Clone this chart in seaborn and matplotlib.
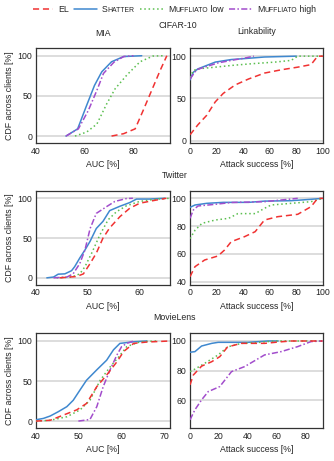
import numpy as np
import pandas as pd
import matplotlib
matplotlib.use("Agg")
import matplotlib.pyplot as plt
from matplotlib.lines import Line2D
import seaborn as sns

sns.set_style("white")
plt.rcParams['font.family'] = ['Liberation Sans', 'DejaVu Sans']
FS = 6.3

# ---------------- data ----------------
methods = ["EL", "SHATTER", "MUFFLIATO low", "MUFFLIATO high"]
colors = {"EL": "#f03232", "SHATTER": "#3f88cf", "MUFFLIATO low": "#5cbf50", "MUFFLIATO high": "#a24dcc"}
styles = {"EL": (0, (4, 2.5)), "SHATTER": "-", "MUFFLIATO low": (0, (1, 1.8)), "MUFFLIATO high": (0, (4, 1.5, 1, 1.5))}
# legend label pieces: (text, small caps?)
legend_parts = {
    "EL": [("EL", False)],
    "SHATTER": [("S", False), ("HATTER", True)],
    "MUFFLIATO low": [("M", False), ("UFFLIATO", True), (" low", False)],
    "MUFFLIATO high": [("M", False), ("UFFLIATO", True), (" high", False)],
}

# CIFAR-10 MIA (AUC %, CDF %)
cifar_mia_el_x = [71, 76, 80.7, 84, 87.5, 91, 93.7]
cifar_mia_el_y = [0, 3, 9, 32, 57, 82, 100]
cifar_mia_sh_x = [52.3, 57.1, 60.5, 64, 67, 71, 76, 83.4]
cifar_mia_sh_y = [0, 9, 36, 63, 80, 92.5, 99, 100]
cifar_mia_ml_x = [56, 60.8, 65, 69, 72.5, 77.3, 82.7, 88, 92.3]
cifar_mia_ml_y = [0, 5, 15, 40, 59, 76, 92.5, 99.6, 100]
cifar_mia_mh_x = [52.3, 57.4, 61.5, 65, 67.7, 72, 76, 80]
cifar_mia_mh_y = [0, 9, 32, 57, 78, 92, 99, 100]

# CIFAR-10 Linkability (attack success %, CDF %)
cifar_lk_el_x = [0, 6, 12.5, 19, 25, 34, 44, 56, 69, 81, 91, 96, 100]
cifar_lk_el_y = [7, 19, 30, 46, 56, 66, 73, 80, 84, 87, 90, 100, 100]
cifar_lk_sh_x = [0, 2.5, 6, 12.5, 19, 31, 44, 56, 80]
cifar_lk_sh_y = [72, 81, 85, 89, 93, 96, 97.5, 99, 100]
cifar_lk_ml_x = [0, 2.5, 6, 19, 31, 46, 64, 76, 81, 100]
cifar_lk_ml_y = [75, 83, 85, 87, 89, 91, 93, 95, 100, 100]
cifar_lk_mh_x = [0, 5, 11, 21, 31, 42, 48]
cifar_lk_mh_y = [73, 84, 87, 92, 95, 98, 100]

# Twitter MIA
tw_mia_el_x = [44.6, 47.9, 49.2, 50.5, 51.7, 53, 54.3, 56.3, 58.2, 60.1, 62.7, 65.3]
tw_mia_el_y = [0, 1.7, 5, 18, 31, 50, 62.8, 77, 87.5, 93.7, 97, 100]
tw_mia_sh_x = [42.1, 43.4, 44.3, 45.6, 46.9, 47.5, 48.5, 49.5, 50.5, 51.7, 53, 54.3, 56.3, 58.2, 59.5, 62, 65]
tw_mia_sh_y = [0, 1, 4.6, 5, 9, 14, 25, 35, 46, 62, 71, 84.5, 90, 94.6, 99, 99, 100]
tw_mia_ml_x = [44, 46.9, 48.5, 49.5, 50.8, 52.4, 54, 55.6, 57.5, 60.1, 63.4, 66]
tw_mia_ml_y = [0, 1, 5, 14, 31, 54, 73, 83, 90.4, 96, 99, 100]
tw_mia_mh_x = [43.4, 46, 47.2, 48.5, 49.5, 50.5, 51.7, 53.7, 55.3, 57.5, 58.8]
tw_mia_mh_y = [0, 1, 5, 18, 35, 62, 81, 89.5, 96, 99.6, 100]

# Twitter Linkability
tw_lk_el_x = [0, 3.75, 11, 21, 26, 31, 41, 49, 56, 66, 81, 91, 96, 100]
tw_lk_el_y = [43.6, 50.8, 55.6, 58.5, 62.8, 68.8, 72.4, 76, 84.4, 86.8, 88.5, 94, 100, 100]
tw_lk_sh_x = [0, 3.75, 12.5, 25, 44, 56, 76, 91, 100]
tw_lk_sh_y = [93.5, 95.2, 96.4, 97.1, 97.1, 98, 98.3, 99.3, 100]
tw_lk_ml_x = [0, 3.75, 9, 19, 29, 36, 49, 56, 61, 76, 91, 100]
tw_lk_ml_y = [71, 77, 82, 84.4, 85.6, 89, 89, 92.8, 95.2, 96.4, 97.6, 100]
tw_lk_mh_x = [0, 2.5, 6, 19, 31, 56, 81]
tw_lk_mh_y = [85.6, 91.6, 94.5, 95.7, 97, 97.6, 100]

# MovieLens MIA
ml_mia_el_x = [40, 43.3, 46.4, 49.5, 51.8, 54.2, 56.5, 58.9, 60.5, 62.8, 65.9, 71.3]
ml_mia_el_y = [0, 1, 7.5, 14, 22, 43, 57.5, 74, 87, 97, 98.7, 100]
ml_mia_sh_x = [40, 41.7, 43.3, 45.2, 47.2, 48.7, 50.3, 51.8, 54.2, 56.5, 58.1, 59.6, 62.8, 65.9]
ml_mia_sh_y = [1.7, 3.3, 6.3, 11.7, 18, 26, 39, 51, 64, 76, 89, 97, 99, 100]
ml_mia_ml_x = [40, 43.3, 47.2, 50.3, 52.6, 55, 57.3, 59.3, 61.2, 64.3, 68.2]
ml_mia_ml_y = [0, 1, 5.4, 14, 26, 51, 67.5, 80, 93, 99, 100]
ml_mia_mh_x = [49.9, 52.6, 54.2, 55.7, 57.3, 58.9, 60, 61.2, 62.8]
ml_mia_mh_y = [0, 2, 18, 43, 64, 82.5, 93, 97, 100]

# MovieLens Linkability
ml_lk_el_x = [0, 2.3, 8, 15, 20.6, 26, 35.5, 51.6, 61, 70, 91.7]
ml_lk_el_y = [70.3, 77, 83, 86, 89.4, 96, 98.4, 98.4, 99.3, 100, 100]
ml_lk_sh_x = [0, 3.4, 8, 15, 19.5, 40, 54, 61]
ml_lk_sh_y = [92.4, 92.8, 96.6, 98.4, 99.1, 99.1, 100, 100]
ml_lk_ml_x = [0, 2.3, 10.3, 19.5, 26, 35.5, 47, 58.5, 91.7]
ml_lk_ml_y = [79.3, 80.4, 85, 90.6, 96, 98.4, 99, 100, 100]
ml_lk_mh_x = [0, 3.4, 8, 12.6, 20.6, 28.7, 37.8, 51.6, 63, 74.5, 83.7, 91.7]
ml_lk_mh_y = [46.7, 53.5, 60.2, 65.8, 69.2, 79.3, 82.7, 90.6, 92.8, 96.2, 99.6, 100]

panels = [
    dict(series={"SHATTER": (cifar_mia_sh_x, cifar_mia_sh_y), "MUFFLIATO low": (cifar_mia_ml_x, cifar_mia_ml_y),
                 "MUFFLIATO high": (cifar_mia_mh_x, cifar_mia_mh_y), "EL": (cifar_mia_el_x, cifar_mia_el_y)},
         xlim=(40, 95), ylim=(-9, 110), xticks=[40, 60, 80], yticks=[0, 50, 100], xlabel="AUC [%]"),
    dict(series={"SHATTER": (cifar_lk_sh_x, cifar_lk_sh_y), "MUFFLIATO low": (cifar_lk_ml_x, cifar_lk_ml_y),
                 "MUFFLIATO high": (cifar_lk_mh_x, cifar_lk_mh_y), "EL": (cifar_lk_el_x, cifar_lk_el_y)},
         xlim=(0, 100), ylim=(-3, 110), xticks=[0, 20, 40, 60, 80, 100], yticks=[0, 50, 100], xlabel="Attack success [%]"),
    dict(series={"SHATTER": (tw_mia_sh_x, tw_mia_sh_y), "MUFFLIATO low": (tw_mia_ml_x, tw_mia_ml_y),
                 "MUFFLIATO high": (tw_mia_mh_x, tw_mia_mh_y), "EL": (tw_mia_el_x, tw_mia_el_y)},
         xlim=(40, 66), ylim=(-9, 109.5), xticks=[40, 50, 60], yticks=[0, 50, 100], xlabel="AUC [%]"),
    dict(series={"SHATTER": (tw_lk_sh_x, tw_lk_sh_y), "MUFFLIATO low": (tw_lk_ml_x, tw_lk_ml_y),
                 "MUFFLIATO high": (tw_lk_mh_x, tw_lk_mh_y), "EL": (tw_lk_el_x, tw_lk_el_y)},
         xlim=(0, 100), ylim=(37.6, 105.5), xticks=[0, 20, 40, 60, 80, 100], yticks=[40, 60, 80, 100], xlabel="Attack success [%]"),
    dict(series={"SHATTER": (ml_mia_sh_x, ml_mia_sh_y), "MUFFLIATO low": (ml_mia_ml_x, ml_mia_ml_y),
                 "MUFFLIATO high": (ml_mia_mh_x, ml_mia_mh_y), "EL": (ml_mia_el_x, ml_mia_el_y)},
         xlim=(40, 71.3), ylim=(-9, 109.6), xticks=[40, 50, 60, 70], yticks=[0, 50, 100], xlabel="AUC [%]"),
    dict(series={"SHATTER": (ml_lk_sh_x, ml_lk_sh_y), "MUFFLIATO low": (ml_lk_ml_x, ml_lk_ml_y),
                 "MUFFLIATO high": (ml_lk_mh_x, ml_lk_mh_y), "EL": (ml_lk_el_x, ml_lk_el_y)},
         xlim=(0, 92), ylim=(41, 105.2), xticks=[0, 20, 40, 60, 80], yticks=[60, 80, 100], xlabel="Attack success [%]"),
]

W, H = 334, 461
fig = plt.figure(figsize=(W / 100, H / 100), dpi=100)

col_px = [(36, 170), (190, 323)]
row_px = [(47.7, 143.3), (190.7, 285), (333.3, 428.3)]

for i, p in enumerate(panels):
    r, c = divmod(i, 2)
    x0, x1 = col_px[c]
    y0, y1 = row_px[r]
    ax = fig.add_axes([x0 / W, 1 - y1 / H, (x1 - x0) / W, (y1 - y0) / H])
    for m, (xs, ys) in p["series"].items():
        df = pd.DataFrame({"x": xs, "y": ys})
        sns.lineplot(data=df, x="x", y="y", ax=ax, color=colors[m], linestyle=styles[m],
                     linewidth=1.1, estimator=None, sort=False, zorder=3)
    ax.set_xlim(*p["xlim"])
    ax.set_ylim(*p["ylim"])
    ax.set_xticks(p["xticks"])
    ax.set_yticks(p["yticks"])
    ax.grid(axis="y", color="#dadada", linewidth=1.3, zorder=0)
    ax.set_axisbelow(True)
    for s in ax.spines.values():
        s.set_color("#333333")
        s.set_linewidth(0.9)
    ax.tick_params(length=0, pad=2.5, labelsize=FS, colors="#222222")
    ax.set_xlabel(p["xlabel"], fontsize=FS, labelpad=3)
    if c == 0:
        ax.set_ylabel("CDF across clients [%]", fontsize=FS, labelpad=3)
    else:
        ax.set_ylabel("")

# titles
fig.text(178 / W, 1 - 25 / H, "CIFAR-10", ha="center", va="center", fontsize=FS)
fig.text(103 / W, 1 - 33 / H, "MIA", ha="center", va="center", fontsize=FS)
fig.text(256.5 / W, 1 - 32 / H, "Linkability", ha="center", va="center", fontsize=FS)
fig.text(175 / W, 1 - 176 / H, "Twitter", ha="center", va="center", fontsize=FS)
fig.text(175 / W, 1 - 318 / H, "MovieLens", ha="center", va="center", fontsize=FS)

# manual legend with small-caps labels
renderer = fig.canvas.get_renderer()
leg_y = 1 - 11.5 / H
handle_px = {"EL": (33, 53), "SHATTER": (74, 97), "MUFFLIATO low": (140, 163), "MUFFLIATO high": (229, 252)}
for m in methods:
    hx0, hx1 = handle_px[m]
    fig.add_artist(Line2D([hx0 / W, hx1 / W], [1 - 9.5 / H, 1 - 9.5 / H], transform=fig.transFigure,
                          color=colors[m], linestyle=styles[m], linewidth=1.1))
    xpos = hx1 + 5
    for txt, small in legend_parts[m]:
        t = fig.text(xpos / W, leg_y, txt, ha="left", va="baseline", fontsize=FS * (0.78 if small else 1.0))
        xpos += t.get_window_extent(renderer).width

fig.savefig("out.png", dpi=100)
